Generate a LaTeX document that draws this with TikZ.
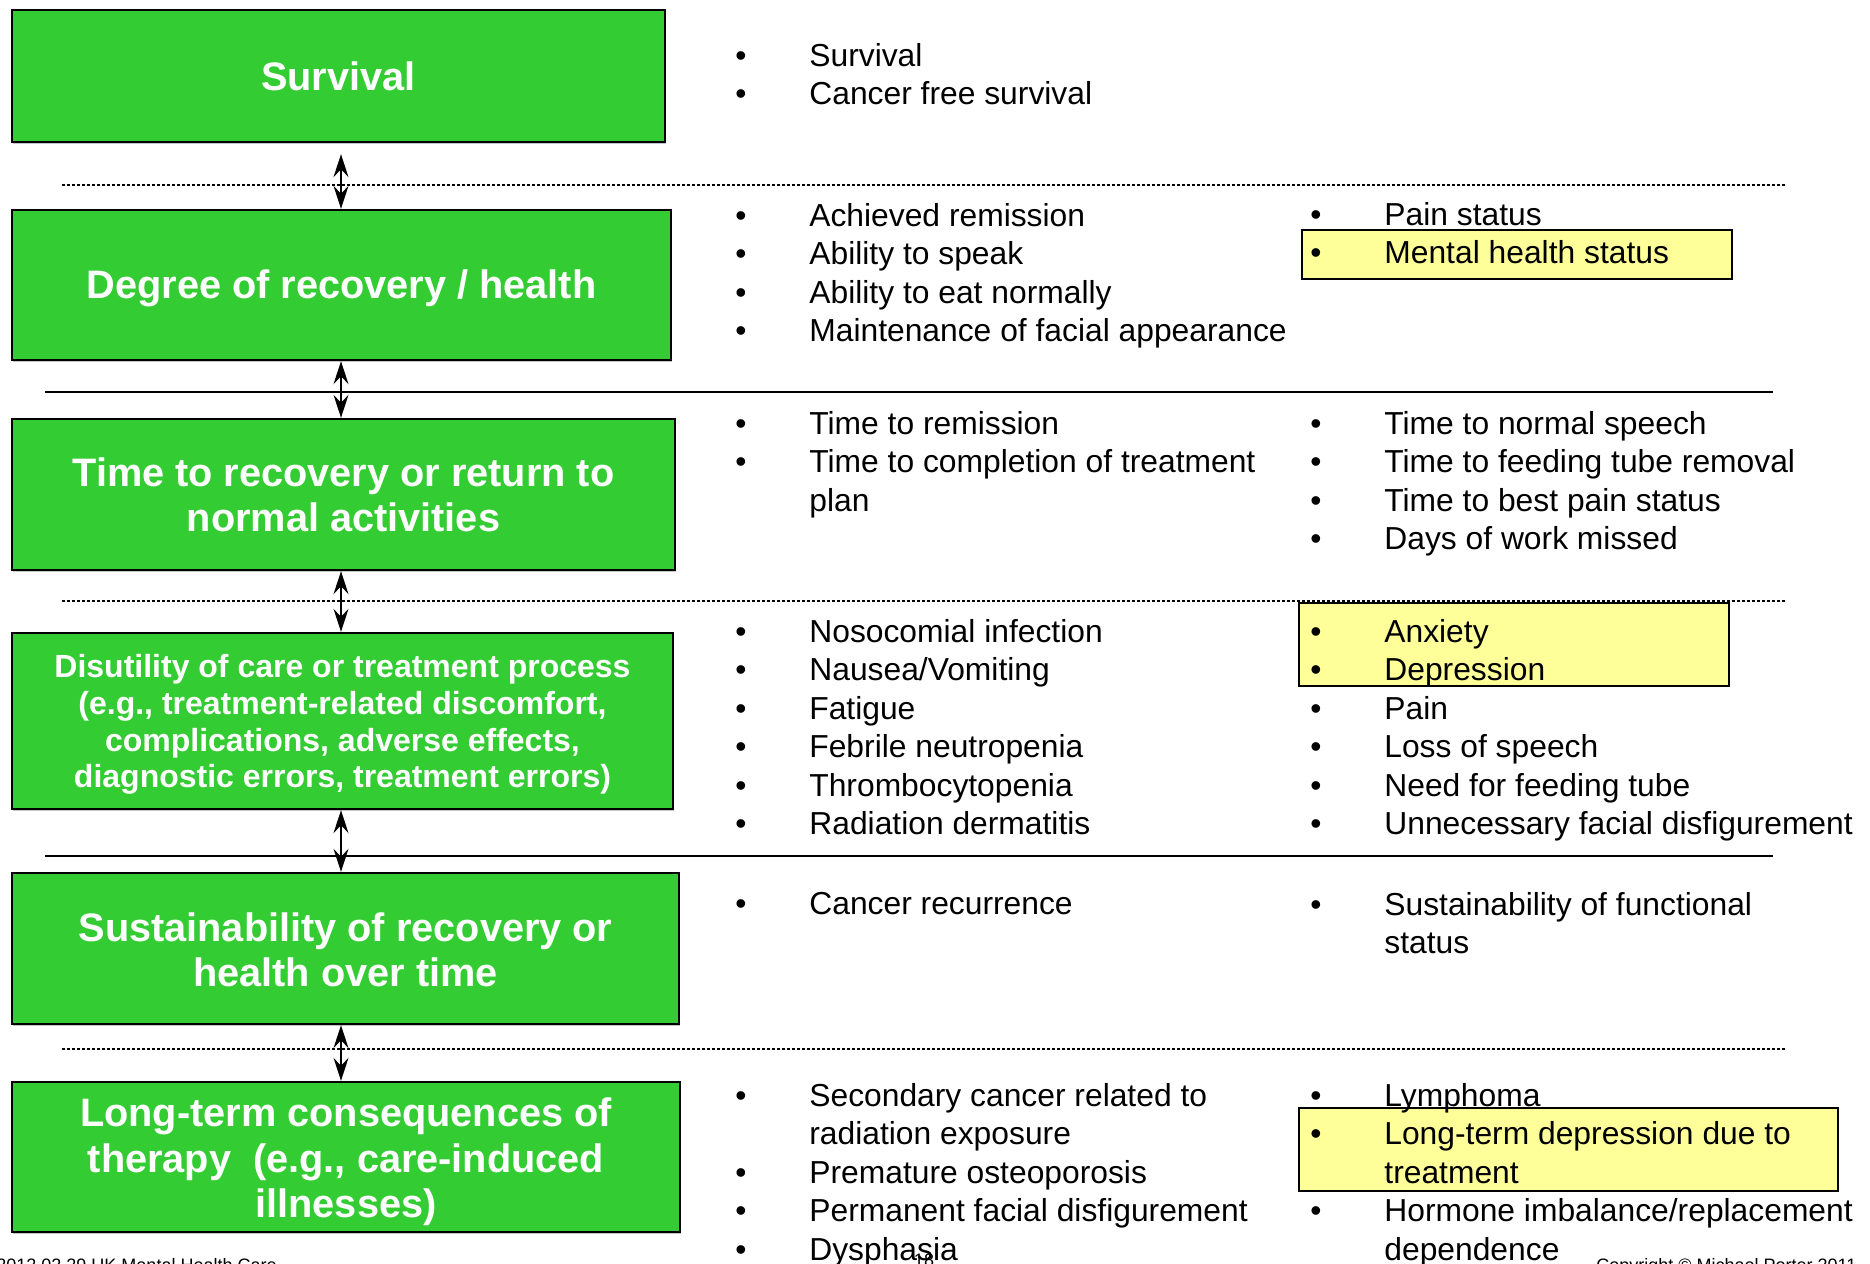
\documentclass[tikz,border=0pt]{standalone}
\usepackage{fontspec}
\setmainfont{Liberation Sans}
\usetikzlibrary{arrows.meta,shadows}

\definecolor{goalgreen}{HTML}{33CC33}
\definecolor{noteyellow}{HTML}{FFFF99}

\newcommand{\bodyfont}{\fontsize{15.9}{19.1}\selectfont}
\newcommand{\headfont}{\fontsize{19.85}{22.65}\selectfont\bfseries}
\newcommand{\smallheadfont}{\fontsize{16}{18.3}\selectfont\bfseries}
\newcommand{\footfont}{\fontsize{9}{10}\selectfont}
\newcommand{\bul}{\makebox[37pt][l]{\textbullet}}
\newcommand{\cont}{\hspace*{37pt}}

% one bulleted column, one node per line
\newcommand{\itemcol}[4]{%
  \foreach \t [count=\i from 0] in {#4}
    \node[item] (#1-\i) at (#2, {#3+38.4*\i}) {\t};}

\tikzset{
  tier/.style={draw=black, line width=1.2pt, fill=goalgreen, inner sep=0pt,
    drop shadow={shadow xshift=0.6pt, shadow yshift=-0.8pt, fill=black!45}},
  tiertext/.style={text=white, align=center, inner sep=0pt, font=\headfont},
  item/.style={anchor=base west, inner sep=0pt, font=\bodyfont},
  note/.style={draw=black, line width=1.2pt, fill=noteyellow},
  updown/.style={>={Stealth[length=11.5pt, width=7.5pt, inset=4pt]}, <->, line width=0.9pt},
  dotsep/.style={line width=1pt, dash pattern=on 1.25pt off 1.25pt},
  solidsep/.style={line width=1pt},
  foot/.style={inner sep=0pt, font=\footfont}
}

\begin{document}
\begin{tikzpicture}[x=0.5pt, y=-0.5pt]

\useasboundingbox (0,0) rectangle (1870,1264);
\clip (0,0) rectangle (1870,1264);

% row separators
\draw[dotsep] (62,185) -- (1787,185);
\draw[solidsep] (45,392) -- (1773,392);
\draw[dotsep] (62,601) -- (1787,601);
\draw[solidsep] (45,856) -- (1773,856);
\draw[dotsep] (62,1049) -- (1787,1049);

% outcome tiers
\node[tier, minimum width=326.5pt, minimum height=66pt] (surv) at (338.5,76) {};
\node[tier, minimum width=329.5pt, minimum height=75pt] (deg) at (341.5,285) {};
\node[tier, minimum width=331.5pt, minimum height=75.5pt] (time) at (343.5,494.5) {};
\node[tier, minimum width=330.5pt, minimum height=88pt] (dis) at (342.5,721) {};
\node[tier, minimum width=333.5pt, minimum height=75.5pt] (sust) at (345.5,948.5) {};
\node[tier, minimum width=334pt, minimum height=75pt] (late) at (346,1157) {};

\node[tiertext] (surv-t) at (surv.center) {Survival};
\node[tiertext] (deg-t) at ([yshift=-1.8pt]deg.center) {Degree of recovery / health};
\node[tiertext] (time-t) at (time.center) {Time to recovery or return to\\normal activities};
\node[tiertext, font=\smallheadfont] (dis-t) at ([yshift=-1.8pt]dis.center)
  {Disutility of care or treatment process\\(e.g., treatment-related discomfort,\\complications, adverse effects,\\diagnostic errors, treatment errors)};
\node[tiertext] (sust-t) at ([yshift=-0.6pt]sust.center) {Sustainability of recovery or\\health over time};
\node[tiertext] (late-t) at ([yshift=-2.4pt]late.center) {Long-term consequences of\\therapy \ (e.g., care-induced\\illnesses)};

% links between tiers
\coordinate (ax) at (341,0);
\draw[updown, shorten <=5.5pt] (surv.south -| ax) -- (deg.north -| ax);
\draw[updown] (deg.south -| ax) -- (time.north -| ax);
\draw[updown] (time.south -| ax) -- (dis.north -| ax);
\draw[updown] (dis.south -| ax) -- (sust.north -| ax);
\draw[updown] (sust.south -| ax) -- (late.north -| ax);

% highlighted measures
\draw[note] (1302,230) rectangle (1732,279);
\draw[note] (1299,603) rectangle (1729,686);
\draw[note] (1299,1108) rectangle (1838,1191);

% measures per tier
\itemcol{r1l}{735}{66.5}{\bul Survival, \bul Cancer free survival}
\itemcol{r2l}{735}{226.5}{\bul Achieved remission, \bul Ability to speak,
  \bul Ability to eat normally, \bul Maintenance of facial appearance}
\itemcol{r2r}{1310}{225.5}{\bul Pain status, \bul Mental health status}
\itemcol{r3l}{735}{434.5}{\bul Time to remission, \bul Time to completion of treatment, \cont plan}
\itemcol{r3r}{1310}{434.5}{\bul Time to normal speech, \bul Time to feeding tube removal,
  \bul Time to best pain status, \bul Days of work missed}
\itemcol{r4l}{735}{642.5}{\bul Nosocomial infection, \bul Nausea/Vomiting, \bul Fatigue,
  \bul Febrile neutropenia, \bul Thrombocytopenia, \bul Radiation dermatitis}
\itemcol{r4r}{1310}{642.5}{\bul Anxiety, \bul Depression, \bul Pain, \bul Loss of speech,
  \bul Need for feeding tube, \bul Unnecessary facial disfigurement}
\itemcol{r5l}{735}{914.5}{\bul Cancer recurrence}
\itemcol{r5r}{1310}{915.5}{\bul Sustainability of functional, \cont status}
\itemcol{r6l}{735}{1106.5}{\bul Secondary cancer related to, \cont radiation exposure,
  \bul Premature osteoporosis, \bul Permanent facial disfigurement, \bul Dysphasia}
\itemcol{r6r}{1310}{1106.5}{\bul Lymphoma, \bul Long-term depression due to, \cont treatment,
  \bul Hormone imbalance/replacement, \cont dependence}

% footer
\node[foot, anchor=base east] (date) at (277,1271) {2012 02 29 UK Mental Health Care};
\node[foot, anchor=base] (page) at (924,1266) {18};
\node[foot, anchor=base west] (copy) at (1596,1271) {Copyright © Michael Porter 2011};

\end{tikzpicture}
\end{document}
